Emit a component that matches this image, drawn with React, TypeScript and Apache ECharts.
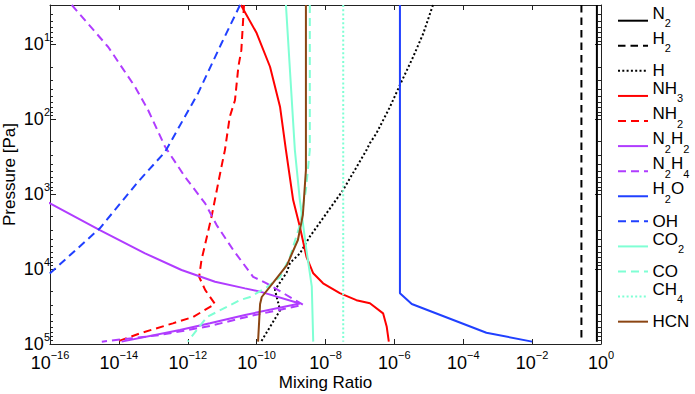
import React, { useEffect, useRef } from 'react';
import * as echarts from 'echarts';

const FONT = '"Liberation Sans", Arial, Helvetica, sans-serif';

// ---- axis ticks ----
const xTickValues = [1e-16, 1e-14, 1e-12, 1e-10, 1e-8, 1e-6, 1e-4, 1e-2, 1];
const yMajorValues = [10, 100, 1000, 10000, 100000];
const yMinorValues = [
  4, 5, 6, 7, 8, 9,
  20, 30, 40, 50, 60, 70, 80, 90,
  200, 300, 400, 500, 600, 700, 800, 900,
  2000, 3000, 4000, 5000, 6000, 7000, 8000, 9000,
  20000, 30000, 40000, 50000, 60000, 70000, 80000, 90000,
];

// ---- profiles: [mixing ratio, pressure (Pa)] ----
const N2: [number, number][] = [[0.76, 3], [0.76, 9.3e4]];
const H2: [number, number][] = [[0.27, 3], [0.27, 9.3e4]];
const H: [number, number][] = [
  [1.32e-5, 3], [6.9e-6, 7.2], [3.5e-6, 14.8], [1.45e-6, 35], [7.4e-7, 69], [3.0e-7, 155],
  [1.95e-7, 209], [1.55e-7, 259], [3.2e-8, 890], [3.5e-9, 3700], [1.8e-9, 6200], [9.3e-10, 8300],
  [7.4e-10, 1.12e4], [3.4e-10, 1.9e4], [4.8e-10, 3.55e4], [1.35e-10, 9.3e4],
];
const NH3: [number, number][] = [
  [3.5e-11, 3], [1.0e-10, 7.1], [2.45e-10, 20], [4.8e-10, 69], [7.1e-10, 259], [1.15e-9, 1200],
  [1.8e-9, 2730], [2.8e-9, 6860], [4.4e-9, 1.14e4], [8.5e-9, 1.55e4], [2.6e-8, 2.1e4],
  [7.9e-8, 2.6e4], [1.95e-7, 2.86e4], [4.7e-7, 3.9e4], [6.0e-7, 5.9e4], [6.9e-7, 9.3e4],
];
const NH2: [number, number][] = [
  [4.3e-11, 3], [3.6e-11, 12], [2.95e-11, 20], [2.35e-11, 56], [1.66e-11, 93], [1.2e-11, 259],
  [9.5e-12, 433], [4.9e-12, 2010], [2.5e-12, 7600], [2.14e-12, 1.27e4], [3.2e-12, 1.9e4],
  [6.2e-12, 2.93e4], [1.41e-12, 4.37e4], [3.7e-13, 5.3e4], [4.1e-14, 7.2e4], [8.9e-15, 9.3e4],
];
const N2H2: [number, number][] = [
  [2.5e-17, 930], [1e-16, 1330], [2.8e-15, 3020], [5.75e-14, 6170], [6.6e-13, 1.03e4],
  [6.2e-12, 1.48e4], [4.6e-11, 1.81e4], [1.26e-10, 2.0e4], [1.8e-9, 2.88e4], [4.6e-11, 4.1e4],
  [4.4e-12, 5.3e4], [5.9e-13, 6.5e4], [1.2e-14, 9.3e4],
];
const N2H4: [number, number][] = [
  [4.3e-16, 3], [4.9e-15, 10.9], [2.95e-14, 37], [7.1e-14, 76], [2.2e-13, 234], [8.3e-13, 588],
  [3.2e-12, 1330], [6.9e-12, 2590], [2.1e-11, 5580], [7.9e-11, 1.27e4], [1.95e-10, 1.55e4],
  [2.24e-9, 3.0e4], [6.5e-11, 4.24e4], [4.4e-12, 5.75e4], [1.55e-13, 7.6e4], [3.2e-15, 9.3e4],
];
const H2O: [number, number][] = [
  [1.45e-6, 3], [1.45e-6, 2.11e4], [3.2e-6, 2.93e4], [4.7e-4, 7.07e4], [1.0e-2, 9.3e4],
];
const OH: [number, number][] = [
  [3.3e-11, 3], [9.5e-12, 9.8], [2.0e-12, 45], [2.2e-13, 273], [3.6e-14, 686], [2.8e-15, 2860],
  [1e-16, 1.14e4], [2.6e-17, 1.95e4],
];
const CO2: [number, number][] = [
  [7.1e-10, 3], [1.29e-9, 259], [1.8e-9, 1200], [2.8e-9, 5580], [4.0e-9, 1.72e4], [4.4e-9, 9.3e4],
];
const CO: [number, number][] = [
  [3.5e-9, 3], [3.5e-9, 259], [2.7e-9, 885], [1.8e-9, 2590], [9.3e-10, 6900], [4.8e-10, 1.28e4],
  [2.0e-10, 1.74e4], [6.5e-11, 2.36e4], [3.3e-11, 2.59e4], [3.6e-12, 4.37e4], [1.0e-12, 9.3e4],
];
const CH4: [number, number][] = [[3.27e-8, 3], [3.27e-8, 9.3e4]];
const HCN: [number, number][] = [
  [2.7e-9, 3], [2.7e-9, 479], [2.2e-9, 1900], [1.58e-9, 4100], [7.6e-10, 8850], [2.95e-10, 1.54e4],
  [1.41e-10, 2.36e4], [1.26e-10, 2.93e4], [1.1e-10, 9.3e4],
];

const DASH = [8, 5];
const DOT = [2, 2.3];

const seriesDefs: { name: string; data: [number, number][]; color: string; type: any }[] = [
  { name: 'N2', data: N2, color: '#000000', type: 'solid' },
  { name: 'H2', data: H2, color: '#000000', type: [7.5, 5] },
  { name: 'H', data: H, color: '#000000', type: DOT },
  { name: 'NH3', data: NH3, color: '#ff0000', type: 'solid' },
  { name: 'NH2', data: NH2, color: '#ff0000', type: DASH },
  { name: 'N2H2', data: N2H2, color: '#b03cff', type: 'solid' },
  { name: 'N2H4', data: N2H4, color: '#b03cff', type: DASH },
  { name: 'H2O', data: H2O, color: '#2040ff', type: 'solid' },
  { name: 'OH', data: OH, color: '#2040ff', type: DASH },
  { name: 'CO2', data: CO2, color: '#7fffd4', type: 'solid' },
  { name: 'CO', data: CO, color: '#7fffd4', type: DASH },
  { name: 'CH4', data: CH4, color: '#7fffd4', type: DOT },
  { name: 'HCN', data: HCN, color: '#8b4513', type: 'solid' },
];

const expText = (v: number) => {
  const e = Math.round(Math.log10(v));
  return e < 0 ? '\u2212' + String(-e) : String(e);
};

let measureCtx: CanvasRenderingContext2D | null = null;
const measure = (text: string, size: number) => {
  if (!measureCtx) measureCtx = document.createElement('canvas').getContext('2d');
  if (!measureCtx) return text.length * size * 0.6;
  measureCtx.font = `${size}px ${FONT}`;
  return measureCtx.measureText(text).width;
};

// legend layout (pixels)
const LEG_X0 = 618;
const LEG_X1 = 648;
const LEG_TX = 652.5;
const LEG_Y0 = 20.7;
const LEG_STEP = 25.08;

function buildLegend(): any[] {
  const out: any[] = [];
  seriesDefs.forEach((s, i) => {
    const y = LEG_Y0 + LEG_STEP * i;
    out.push({
      type: 'line',
      silent: true,
      shape: { x1: LEG_X0, y1: y, x2: LEG_X1, y2: y },
      style: {
        stroke: s.color,
        lineWidth: 2,
        lineDash: Array.isArray(s.type) ? s.type : null,
        lineCap: 'butt',
      },
    });
    const parts = s.name.match(/[A-Za-z]+|\d+/g) || [s.name];
    const hasSub = parts.some((p) => /\d/.test(p));
    let x = LEG_TX;
    parts.forEach((p) => {
      const isSub = /\d/.test(p);
      const fs = isSub ? 11 : 17;
      const ty = !hasSub ? y : isSub ? y + 2.5 : y - 7.4;
      out.push({
        type: 'text',
        silent: true,
        x,
        y: ty,
        style: {
          text: p,
          fontSize: fs,
          fontFamily: FONT,
          fill: '#000',
          align: 'left',
          verticalAlign: 'middle',
        },
      });
      x += measure(p, fs);
    });
  });
  return out;
}

const axisColor = '#222222';

function buildOption(): any {
  const baseY = { type: 'log', logBase: 10, min: 3, max: 1e5, inverse: true, splitLine: { show: false } };
  const baseX = { type: 'log', logBase: 10, min: 1e-16, max: 1, splitLine: { show: false } };
  return {
    animation: false,
    backgroundColor: '#ffffff',
    textStyle: { fontFamily: FONT },
    grid: { left: 50, right: 94, top: 5, bottom: 50, containLabel: false, outerBoundsMode: 'none' },
    legend: { show: false },
    graphic: buildLegend(),
    xAxis: [
      {
        ...baseX,
        position: 'bottom',
        axisLine: { show: true, onZero: false, lineStyle: { color: axisColor, width: 1 } },
        axisTick: { show: true, inside: true, length: 5, customValues: xTickValues, lineStyle: { color: axisColor } },
        axisLabel: {
          show: true,
          customValues: xTickValues,
          margin: 0,
          formatter: (v: number) => `{m|10}{e|${expText(v)}}`,
          rich: {
            m: { fontFamily: FONT, fontSize: 18, lineHeight: 28, color: '#000', verticalAlign: 'bottom' },
            e: { fontFamily: FONT, fontSize: 11, lineHeight: 28, color: '#000', verticalAlign: 'top', padding: [5, 0, 0, 0] },
          },
        },
        name: 'Mixing Ratio',
        nameLocation: 'middle',
        nameGap: 29.5,
        nameMoveOverlap: false,
        nameTextStyle: { fontFamily: FONT, fontSize: 17, color: '#000' },
      },
      {
        ...baseX,
        position: 'top',
        axisLine: { show: true, onZero: false, lineStyle: { color: axisColor, width: 1 } },
        axisTick: { show: true, inside: true, length: 5, customValues: xTickValues, lineStyle: { color: axisColor } },
        axisLabel: { show: false },
      },
    ],
    yAxis: [
      {
        ...baseY,
        position: 'left',
        axisLine: { show: true, onZero: false, lineStyle: { color: axisColor, width: 1 } },
        axisTick: { show: true, inside: true, length: 6, customValues: yMajorValues, lineStyle: { color: axisColor } },
        axisLabel: {
          show: true,
          customValues: yMajorValues,
          margin: 0,
          formatter: (v: number) => `{m|10}{e|${expText(v)}}`,
          rich: {
            m: { fontFamily: FONT, fontSize: 18, lineHeight: 30, color: '#000', verticalAlign: 'middle' },
            e: { fontFamily: FONT, fontSize: 11, lineHeight: 30, color: '#000', verticalAlign: 'top', padding: [2.5, 0, 0, 0] },
          },
        },
        name: 'Pressure [Pa]',
        nameLocation: 'middle',
        nameRotate: 90,
        nameGap: 32,
        nameMoveOverlap: false,
        nameTextStyle: { fontFamily: FONT, fontSize: 17, color: '#000' },
      },
      {
        ...baseY,
        position: 'left',
        axisLine: { show: false },
        axisTick: { show: true, inside: true, length: 3, customValues: yMinorValues, lineStyle: { color: axisColor } },
        axisLabel: { show: false },
      },
      {
        ...baseY,
        position: 'right',
        axisLine: { show: true, onZero: false, lineStyle: { color: axisColor, width: 1 } },
        axisTick: { show: true, inside: true, length: 6, customValues: yMajorValues, lineStyle: { color: axisColor } },
        axisLabel: { show: false },
      },
      {
        ...baseY,
        position: 'right',
        axisLine: { show: false },
        axisTick: { show: true, inside: true, length: 3, customValues: yMinorValues, lineStyle: { color: axisColor } },
        axisLabel: { show: false },
      },
    ],
    series: seriesDefs.map((s) => ({
      name: s.name,
      type: 'line',
      xAxisIndex: 0,
      yAxisIndex: 0,
      data: s.data,
      symbol: 'none',
      showSymbol: false,
      clip: true,
      color: s.color,
      itemStyle: { color: s.color },
      lineStyle: { color: s.color, width: 2, type: s.type, cap: 'butt' },
      emphasis: { disabled: true },
    })),
  };
}

export default function App() {
  const ref = useRef<HTMLDivElement>(null);
  useEffect(() => {
    document.body.style.margin = '0';
    if (!ref.current) return;
    const chart = echarts.init(ref.current, null, { renderer: 'svg' });
    chart.setOption(buildOption());
    return () => chart.dispose();
  }, []);
  return <div ref={ref} style={{ width: 695, height: 394 }} />;
}
